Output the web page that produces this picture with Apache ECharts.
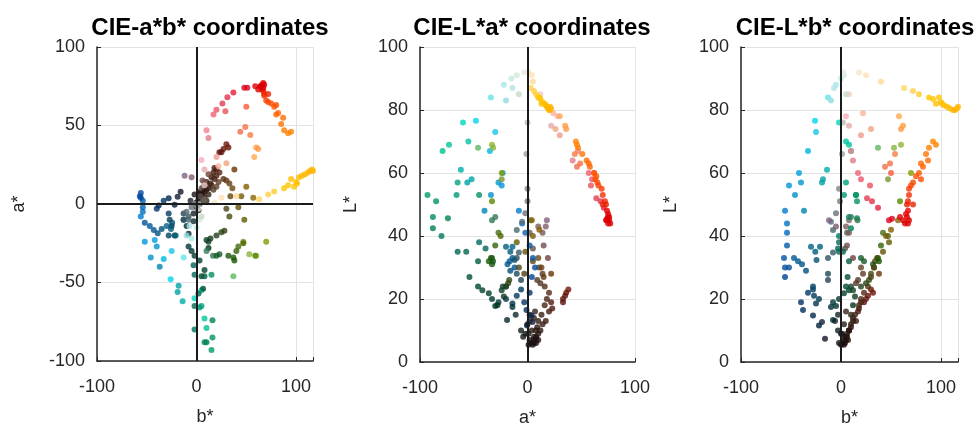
<!DOCTYPE html>
<html><head><meta charset="utf-8">
<script src="https://cdn.jsdelivr.net/npm/echarts@6/dist/echarts.min.js"></script>
<style>html,body{margin:0;padding:0;background:#fff}#c{width:976px;height:427px}</style>
</head><body><div id="c"></div>
<script>
// Each point: [L*, a*, b*]
const warmRamp = [
 [92,1,18],[91,4,25],[89,5,40],
 [87,3,63],[86,6,72],[85,8,78],[84,10,88],[83.5,12,92],[84,11,98],[82.5,14,100],[82,16,95],[81.5,17,103],[81,18,106],[80.5,19,109],[80,20,112],[80,21,114],[80.5,22,116],[81,21,117],[82,13,101],
 [78,30,58],[75,35,62],[74,36,60],
 [70,45,92],[69,46,95],[68,47,88],[66,51,85],[64,55,87],[63,57,80],[62,58,82],[60,62,78],[59,64,75],[58,63,80],[57,65,72],[56,66,70],[55,69,68],[53,70,68],[51,72,67],[50,73,66],[50,70,72],[48,74,67],[47,75,65],[46,76,66],[45,76,68],[44,77,67],[44,75,64],[45,73,62]
];
const pinks = [
 [67,47,10],[64,42,12],[60,57,17],[58,60,20],[52,64,26],[56,59,29],[51,68,31],[49,71,37],[45,74,48],[45.5,74,51],[46,75,59],[60,62,50],[63,49,49],[62,46,44],[66,44,54],
 [78,28,5],[75,22,8],[72,30,20],[79,24,22],[85,12,8],[74,26,30]
];
const browns = [
 [23,38,30],[22,36,32],[21,35,27],[20,33,25],[19,33,23],[19,22,20],[17,23,18],[16,20,17],[13,17,15],[12,14,10],[10,12,8],[9,10,6],[8,8,5],[7,6,4],
 [43,10,5],[41,14,8],[37,15,6],[33,19,12],[28,14,22],[28,22,38],[30,11,20],[26,9,17],[25,12,15],[45,3,8],[41,2,6],[36,5,4],
 [10,8,8],[13,10,12],[15,13,14],[18,16,18],[20,18,20],[22,20,23],[24,16,27],[27,15,30],[30,13,33],[33,10,36],[32,5,34]
];
const olives = [
 [60,-24,70],[69,-33,60],[68,-32,53],[68,-46,37],[51,-33,59],[58,-24,47],
 [33,-33,20],[32,-32,23],[31,-33,32],[33,-34,37],[32,-36,38],[41,-27,42],[40,-25,47],[37,-30,40],
 [24,-20,20],[25,-18,25],[26,-17,28],[30,-8,33],[38,-10,48],[28,-3,30],[35,-2,42],[40,5,45],[45,4,57],[42,11,50]
];
const blues = [
 [48,-8,-56],[44,-5,-54],[41,-2,-54],[37,2,-54],[33,5,-57],[30,7,-56],[27,4,-56],
 [33,-14,-47],[32,-16.6,-43],[31,-18.6,-39],[29,-16,-35],[30,-12,-52],
 [53,-34,-46],[57,-27,-40],[60,-23,-42],[56,-24,-52],[67,-35,-33],[73,-30,-25],[48,-40,-37],
 [36.6,-14,-30],[35,-16,-25.7],[36.6,-20,-21],[32.4,-12,-24.5],[33,-10,-13],[34.8,-8,-8],[41.9,-10,-8],[44.5,-5,-10],[47.2,-2,-5],
 [43,17,-5],[45,18,-12]
];
const navies = [
 [19,-3,-40],[22,2,-33],[23,-6,-28],[21,-10,-27],[18.6,-14,-25],[16.5,-1,-38],[14.8,3.6,-28],[12.7,4.6,-19],[11.6,-0.5,-22],[7.4,7.8,-16],[20,-20,-22],[24,-20,-28],[26,-6,-13],[28,-10,-13]
];
const cyans = [
 [53,-93,15],[46,-88,8],[42.5,-88,10],[40,-80,-2],[45.6,-74,16],[67,-79,10],[69,-73,8],[76,-60,-2],[76.6,-48,-26],[70,-55,5],[61,-62,-14],[57,-65,5],[53,-66,3],[58,-52,-18],[57,-56,-19],[51,-85,16],
 [35,-65,-2],[35,-57,2],[27,-54,6.6],[24,-46,5],[32,-46,8],[36,-39,-3],[38,-45,-2],[53,-45,15],[46,-30,10],[45,-33,16.5]
];
const darkGreens = [
 [22.8,-42,8],[21.8,-36,3],[20,-33,-2],[17.8,-30,-5],[22.8,-24,12],[24,-23,10],[20.8,-22,14],[13.3,-19,-8],[17.5,-14,-10],[15,-11,-3],[19,-27,-8],[18,-28,12]
];
const paleTop = [
 [84,-34,-13],[83,-20,-10],[87,-14,-7],[88,-22,-5],[90,-15,0],[91,-10,3],[92,-3,2],[85,-8,5],
 [76,0,2],[66,-1,1],[55,0,-2],[51,0,-1]
];
const darkCore = [
 [6,3,2],[5.5,5,3],[7,2,5],[8,6,6],[9,1,1],[6,8,4],[5.5,1,0],[10,4,8],[11,9,10],[7,10,7],[12,0,3],[9,-2,0],[8,-4,2],[10,-6,-3],[13,2,-6],[6,6,-2],[14,6,12],[15,2,10],[16,7,5]
];

const panelTitles = ['CIE-a*b* coordinates','CIE-L*a* coordinates','CIE-L*b* coordinates'];
const xAxisNames = ['b*','a*','b*'];
const yAxisNames = ['a*','L*','L*'];

const allPoints = [].concat(darkCore, navies, darkGreens, browns, blues, cyans, olives, pinks, paleTop, warmRamp);

function lab2rgb(L, a, b) {
  const fy = (L + 16) / 116, fx = fy + a / 500, fz = fy - b / 200;
  const d = 6 / 29;
  const f = t => t > d ? t * t * t : 3 * d * d * (t - 4 / 29);
  const X = 0.95047 * f(fx), Y = f(fy), Z = 1.08883 * f(fz);
  let r = 3.2406 * X - 1.5372 * Y - 0.4986 * Z;
  let g = -0.9689 * X + 1.8758 * Y + 0.0415 * Z;
  let bl = 0.0557 * X - 0.2040 * Y + 1.0570 * Z;
  const gam = c => { c = c <= 0.0031308 ? 12.92 * c : 1.055 * Math.pow(c, 1 / 2.4) - 0.055; return Math.round(Math.max(0, Math.min(1, c)) * 255); };
  return 'rgb(' + gam(r) + ',' + gam(g) + ',' + gam(bl) + ')';
}

const FONT = 'Liberation Sans, Arial, sans-serif';
const txt = '#262626';

function mkData(ix, iy) {
  return allPoints.map(p => ({ value: [p[ix], p[iy]], itemStyle: { color: lab2rgb(p[0], p[1], p[2]) } }));
}

const grids = [
  { left: 97, top: 47, width: 216, height: 314, containLabel: false, outerBoundsMode: 'none' },
  { left: 420, top: 47, width: 215, height: 315, containLabel: false, outerBoundsMode: 'none' },
  { left: 741, top: 47, width: 217, height: 315, containLabel: false, outerBoundsMode: 'none' }
];
const xRanges = [[-100, 117], [-100, 100], [-100, 117]];
const yRanges = [[-100, 100, 50], [0, 100, 20], [0, 100, 20]];
const nameGaps = [69, 60, 61];

const xAxes = xRanges.map((r, i) => ({
  gridIndex: i, type: 'value', min: r[0], max: r[1], interval: 100,
  name: xAxisNames[i], nameLocation: 'middle', nameGap: 47,
  nameTextStyle: { fontSize: 18, color: txt, fontFamily: FONT },
  axisLine: { onZero: false, lineStyle: { color: '#262626', width: 1.5 } },
  axisTick: { inside: true, length: 4, lineStyle: { color: '#262626' } },
  axisLabel: { fontSize: 18, color: txt, fontFamily: FONT, margin: 17,
    formatter: v => (Math.abs(v % 100) < 1e-9 ? String(v) : '') },
  splitLine: { show: true, lineStyle: { color: '#e3e3e3', width: 1 } }
}));
const yAxes = yRanges.map((r, i) => ({
  gridIndex: i, type: 'value', min: r[0], max: r[1], interval: r[2],
  name: yAxisNames[i], nameLocation: 'middle', nameGap: nameGaps[i], nameRotate: 90,
  nameTextStyle: { fontSize: 18, color: txt, fontFamily: FONT },
  axisLine: { onZero: false, lineStyle: { color: '#262626', width: 1.5 } },
  axisTick: { inside: true, length: 4, lineStyle: { color: '#262626' } },
  axisLabel: { fontSize: 18, color: txt, fontFamily: FONT, margin: 12 },
  splitLine: { show: true, lineStyle: { color: '#e3e3e3', width: 1 } }
}));

const zeroLineStyle = { color: '#1a1a1a', width: 2, type: 'solid' };
const series = [
  { type: 'scatter', xAxisIndex: 0, yAxisIndex: 0, symbolSize: 6, data: mkData(2, 1),
    markLine: { silent: true, symbol: 'none', label: { show: false }, lineStyle: zeroLineStyle, animation: false,
      data: [{ xAxis: 0 }, { yAxis: 0 }] } },
  { type: 'scatter', xAxisIndex: 1, yAxisIndex: 1, symbolSize: 6, data: mkData(1, 0),
    markLine: { silent: true, symbol: 'none', label: { show: false }, lineStyle: zeroLineStyle, animation: false,
      data: [{ xAxis: 0 }] } },
  { type: 'scatter', xAxisIndex: 2, yAxisIndex: 2, symbolSize: 6, data: mkData(2, 0),
    markLine: { silent: true, symbol: 'none', label: { show: false }, lineStyle: zeroLineStyle, animation: false,
      data: [{ xAxis: 0 }] } }
];

const titleCenters = [205, 527, 850];
const chart = echarts.init(document.getElementById('c'));
chart.setOption({
  animation: false,
  backgroundColor: '#fff',
  title: panelTitles.map((t, i) => ({ text: t, left: titleCenters[i], top: 11, textAlign: 'center',
    textStyle: { fontSize: 24, fontWeight: 'bold', color: '#000', fontFamily: FONT } })),
  grid: grids,
  xAxis: xAxes,
  yAxis: yAxes,
  series: series
});
</script></body></html>
